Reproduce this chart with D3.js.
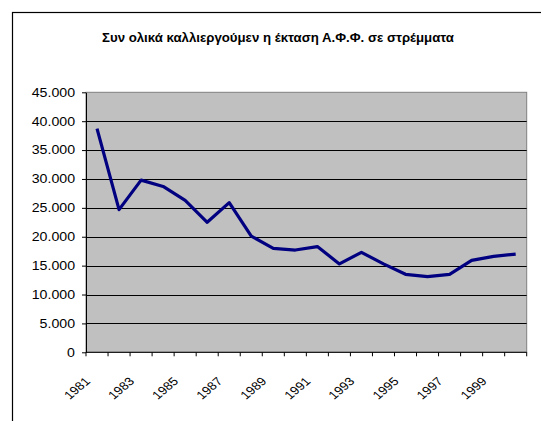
<!DOCTYPE html>
<html>
<head>
<meta charset="utf-8">
<script src="https://cdn.jsdelivr.net/npm/d3@7"></script>
<style>
  html, body { margin: 0; padding: 0; background: #fff; }
  svg { display: block; font-family: Arial, "Liberation Sans", sans-serif; }
</style>
</head>
<body>
<div id="chart"></div>
<script>
// Data
const years = ['1981', '1982', '1983', '1984', '1985', '1986', '1987', '1988', '1989', '1990',
  '1991', '1992', '1993', '1994', '1995', '1996', '1997', '1998', '1999', '2000'];
const area = [38700, 24700, 29800, 28700, 26300, 22500, 25900, 20100, 18000, 17700,
  18300, 15300, 17300, 15300, 13500, 13100, 13500, 15900, 16600, 17000];
const yTicks = [0, 5000, 10000, 15000, 20000, 25000, 30000, 35000, 40000, 45000];
const xLabels = ['1981', '1983', '1985', '1987', '1989', '1991', '1993', '1995', '1997', '1999'];
const title = 'Συν ολικά καλλιεργούμεν η έκταση Α.Φ.Φ. σε στρέμματα';

const width = 541, height = 421;
const plot = { left: 86, right: 526.7, top: 92.3, bottom: 352.3 };
const sx = 1.18; // the whole chart looks stretched sideways

// Greek number format: 45.000
const locale = d3.formatLocale({ decimal: ',', thousands: '.', grouping: [3], currency: ['', '€'] });
const fmt = locale.format(',d');

const svg = d3.select('#chart')
  .append('svg')
  .attr('width', width)
  .attr('height', height);

// outer chart frame (runs past the window on the right/bottom)
svg.append('rect')
  .attr('x', 12.5)
  .attr('y', 12.5)
  .attr('width', width + 20)
  .attr('height', height + 20)
  .attr('fill', '#fff')
  .attr('stroke', '#000')
  .attr('stroke-width', 1.2);

const stretch = (sel, k) => sel.each(function () {
  const len = this.getComputedTextLength();
  d3.select(this).attr('textLength', len * k).attr('lengthAdjust', 'spacingAndGlyphs');
});

// Title
svg.append('text')
  .attr('x', 278)
  .attr('y', 41.7)
  .attr('text-anchor', 'middle')
  .style('font-size', '12px')
  .style('font-weight', 'bold')
  .text(title)
  .attr('textLength', 352)
  .attr('lengthAdjust', 'spacingAndGlyphs');

const x = d3.scaleBand()
  .domain(years)
  .range([plot.left, plot.right])
  .padding(0);

const y = d3.scaleLinear()
  .domain([0, 45000])
  .range([plot.bottom, plot.top]);

// plot background
svg.append('rect')
  .attr('x', plot.left)
  .attr('y', plot.top)
  .attr('width', plot.right - plot.left)
  .attr('height', plot.bottom - plot.top)
  .attr('fill', '#c0c0c0')
  .attr('stroke', '#808080')
  .attr('stroke-width', 1);

// grid lines
svg.append('g')
  .selectAll('line')
  .data(yTicks.filter(d => d > 0 && d < 45000))
  .join('line')
  .attr('x1', plot.left)
  .attr('x2', plot.right)
  .attr('y1', d => Math.round(y(d)) + 0.5)
  .attr('y2', d => Math.round(y(d)) + 0.5)
  .attr('stroke', '#000')
  .attr('stroke-width', 1);

// Y axis
svg.append('g')
  .attr('transform', `translate(${plot.left},0)`)
  .call(d3.axisLeft(y).tickValues(yTicks).tickFormat(fmt).tickSize(4).tickPadding(7).tickSizeOuter(0))
  .call(g => g.select('.domain').attr('stroke', '#000'))
  .call(g => g.selectAll('.tick line').attr('stroke', '#000'))
  .call(g => g.selectAll('.tick text')
    .attr('fill', '#000')
    .style('font-size', '12px')
    .call(stretch, sx));

// X axis: ticks on category boundaries
const boundaries = years.map(d => x(d)).concat([plot.right]);
const xAxis = svg.append('g');
xAxis.append('line')
  .attr('x1', plot.left)
  .attr('x2', plot.right)
  .attr('y1', plot.bottom)
  .attr('y2', plot.bottom)
  .attr('stroke', '#000');
xAxis.selectAll('line.tick')
  .data(boundaries)
  .join('line')
  .attr('class', 'tick')
  .attr('x1', d => d)
  .attr('x2', d => d)
  .attr('y1', plot.bottom)
  .attr('y2', plot.bottom + 4)
  .attr('stroke', '#000');
xAxis.selectAll('text')
  .data(xLabels)
  .join('text')
  .attr('transform', d => `translate(${x(d) + x.bandwidth() / 2 - 6},382) scale(${sx},1) rotate(-45)`)
  .attr('text-anchor', 'end')
  .style('font-size', '11.5px')
  .text(d => d);

// the line
const line = d3.line()
  .x((d, i) => x(years[i]) + x.bandwidth() / 2)
  .y(d => y(d));

svg.append('path')
  .datum(area)
  .attr('fill', 'none')
  .attr('stroke', '#000080')
  .attr('stroke-width', 3.2)
  .attr('stroke-linejoin', 'round')
  .attr('d', line);
</script>
</body>
</html>
